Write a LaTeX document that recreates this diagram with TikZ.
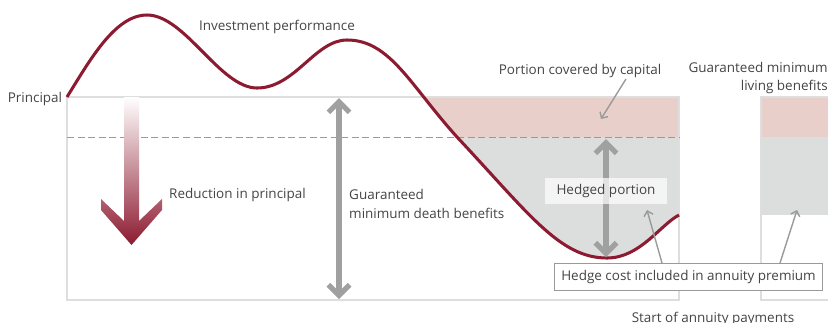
\documentclass[tikz,border=0pt]{standalone}
\usepackage{fontspec}
\setmainfont{Open Sans}
\usetikzlibrary{positioning,arrows.meta}
\definecolor{wine}{HTML}{8C1A30}
\definecolor{capitalpink}{HTML}{E8CFCA}
\definecolor{hedgegray}{HTML}{DCDDDD}
\definecolor{framegray}{HTML}{DEDEDE}
\definecolor{ink}{HTML}{444444}
\definecolor{pointergray}{HTML}{9A9A9A}
\definecolor{guaranteegray}{HTML}{A0A0A0}

\begin{document}
\begin{tikzpicture}[
    x=0.03cm, y=-0.03cm,
    >={Straight Barb[length=4pt,width=8pt]},
    boxframe/.style={draw=framegray, line width=1.7pt},
    performance/.style={draw=wine, line width=2.6pt},
    guarantee/.style={draw=guaranteegray, line width=4.5pt,
        {Straight Barb[length=9pt,width=18pt]}-{Straight Barb[length=9pt,width=18pt]}},
    callout/.style={->, draw=pointergray, line width=1.2pt},
    every node/.style={ font=\fontsize{11.5}{16}\selectfont,
                        text=ink,
                        inner sep=0pt}]

    \clip (0,0) rectangle (828,322);

    \begin{scope}
        \clip (347,40) .. controls (390,40) and (410,85) .. (457,137)
            .. controls (530,215) and (560,258) .. (607,258)
            .. controls (640,258) and (660,225) .. (679,215) -- (679,40) -- cycle;
        \fill[capitalpink] (347,97) rectangle (679,137);
        \fill[hedgegray] (347,137) rectangle (679,300);
    \end{scope}
    \fill[capitalpink] (761,97) rectangle (840,137);
    \fill[hedgegray] (761,137) rectangle (840,215);

    \draw[boxframe] (67,97) rectangle (679,300);
    \draw[boxframe] (761,97) rectangle (840,300);
    \draw[draw=pointergray, line width=0.8pt, dash pattern=on 6pt off 3pt] (67,137) -- (679,137);

    \coordinate (start) at (67,97);
    \draw[performance] (start) .. controls (90,60) and (115,15) .. (147,15)
        .. controls (185,15) and (220,88) .. (257,88)
        .. controls (295,88) and (315,40) .. (347,40)
        .. controls (390,40) and (410,85) .. (457,137)
        .. controls (530,215) and (560,258) .. (607,258)
        .. controls (640,258) and (660,225) .. (679,215);

    \shade[top color=white, bottom color=wine] (124,97) -- (124,221) -- (101,199) -- (101,210)
        -- (131.5,245) -- (162,210) -- (162,199) -- (139,221) -- (139,97) -- cycle;

    \coordinate (gmdbtop) at (339,98);
    \coordinate (gmdbbottom) at (339,299);
    \draw[guarantee] (gmdbtop) -- (gmdbbottom);
    \coordinate (hedgetop) at (606,139);
    \coordinate (hedgebottom) at (606,257);
    \draw[guarantee] (hedgetop) -- (hedgebottom);

    \node[left=4pt of start, yshift=-1.5pt] (principal) {Principal};
    \node (invest) at (277,27) {Investment performance};
    \node[anchor=west] (reduction) at (169,195) {Reduction in principal};
    \node[anchor=west, align=left] (gmdb) at (349,204) {Guaranteed\\minimum death benefits};
    \node (capital) at (580,71) {Portion covered by capital};
    \node[anchor=east, align=right] (gmlb) at (828,78) {Guaranteed minimum\\living benefits};
    \node[fill=white, fill opacity=0.7, text opacity=1,
          minimum width=104pt, minimum height=22pt] (hedged) at (606,191) {Hedged portion};
    \node[fill=white, draw=pointergray, line width=0.6pt,
          minimum width=229pt, minimum height=23pt] (hedgecost) at (688.5,276.5) {Hedge cost included in annuity premium};
    \node (annuity) at (713,319) {Start of annuity payments};

    \coordinate (capitalfoot) at (626,79);
    \coordinate (capitaltip) at (601,119);
    \draw[callout] (capitalfoot) -- (capitaltip);
    \coordinate (costfoot) at (662,263);
    \coordinate (costtip) at (647,210);
    \draw[callout] (costfoot) -- (costtip);
    \coordinate (livingfoot) at (780,263);
    \coordinate (livingtip) at (797,210);
    \draw[callout] (livingfoot) -- (livingtip);

\end{tikzpicture}
\end{document}
